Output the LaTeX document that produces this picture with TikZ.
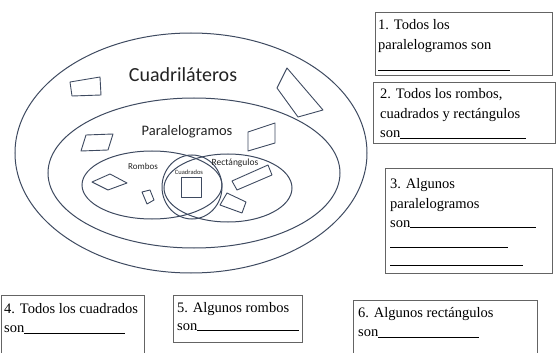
\documentclass[tikz,border=0pt]{standalone}
\usepackage{fontspec}
\setmainfont{Liberation Serif}
\newfontfamily\diagfont{Carlito}
\definecolor{setline}{RGB}{62,74,96}
\definecolor{boxline}{RGB}{100,100,100}
\definecolor{setlabel}{RGB}{35,35,35}
\newcommand{\blank}[1]{\rule[-1pt]{#1pt}{0.5pt}}

\begin{document}
\begin{tikzpicture}[x=1pt,y=1pt,yscale=-1,xscale=1,
  setline/.style={draw=setline, line width=1pt},
  figline/.style={draw=setline, line width=0.9pt, line join=round},
  setname/.style={text=setlabel, inner sep=0pt},
  qbox/.style={draw=boxline, line width=0.8pt},
  qtext/.style={anchor=base west, inner sep=0pt, font=\fontsize{14.5}{17}\selectfont}]

\useasboundingbox (0,0) rectangle (558,353);

% sets
\draw [setline] (191,153) ellipse [x radius=176, y radius=120];
\draw [setline] (194,173) ellipse [x radius=146, y radius=75];
\draw [setline] (152,185) ellipse [x radius=70, y radius=34];
\draw [setline] (228,188) ellipse [x radius=64, y radius=34];
\draw [setline] (192,187) ellipse [x radius=30, y radius=32];

\node [setname, font=\diagfont\fontsize{20}{22}\selectfont] (cuadri) at (183,75) {Cuadriláteros};
\node [setname, font=\diagfont\fontsize{14.5}{16}\selectfont] (paral) at (187,132) {Paralelogramos};
\node [setname, font=\diagfont\fontsize{9}{10}\selectfont] (rombos) at (143,166) {Rombos};
\node [setname, font=\diagfont\fontsize{9.5}{10}\selectfont] (rect) at (235,163) {Rectángulos};
\node [setname, font=\diagfont\fontsize{6.5}{7}\selectfont] (cuad) at (189,172) {Cuadrados};

% little figures
\draw [figline] (70,82) -- (100,77) -- (101,95) -- (72,96) -- cycle;
\draw [figline] (287,68) -- (323,110) -- (298,117) -- (277,88) -- cycle;
\draw [figline] (86,135) -- (113,134) -- (108,150) -- (81,151) -- cycle;
\draw [figline] (248,132) -- (275,123) -- (275,143) -- (248,151) -- cycle;
\draw [figline] (92,182) -- (110,174) -- (127,183) -- (108,190) -- cycle;
\draw [figline] (142,192) -- (150,190) -- (154,200) -- (147,204) -- cycle;
\draw [figline] (181,177) rectangle (201,197);
\draw [figline] (232,181) -- (268,165) -- (272,175) -- (237,190) -- cycle;
\draw [figline] (227,193) -- (246,202) -- (242,213) -- (220,205) -- cycle;

% question boxes
\draw [qbox] (375,12) rectangle (552,75);
\node [qtext] (q1a) at (378,30) {1. Todos los};
\node [qtext] (q1b) at (378,50) {paralelogramos son};
\node [qtext] (q1c) at (378,70) {\blank{132}};

\draw [qbox] (373,82) rectangle (555,143);
\node [qtext] (q2a) at (380,99) {2. Todos los rombos,};
\node [qtext] (q2b) at (380,119) {cuadrados y rectángulos};
\node [qtext] (q2c) at (380,138) {son\blank{126}};

\draw [qbox] (385,168) rectangle (552,273);
\node [qtext] (q3a) at (390,189) {3. Algunos};
\node [qtext] (q3b) at (390,208) {paralelogramos};
\node [qtext] (q3c) at (390,227) {son\blank{126}};
\node [qtext] (q3d) at (390,247) {\blank{118}};
\node [qtext] (q3e) at (390,265) {\blank{133}};

\draw [qbox] (1,353) -- (1,295) -- (144,295) -- (144,353);
\node [qtext] (q4a) at (4,313) {4. Todos los cuadrados};
\node [qtext] (q4b) at (4,332) {son\blank{101}};

\draw [qbox] (173,295) rectangle (302,342);
\node [qtext] (q5a) at (177,312) {5. Algunos rombos};
\node [qtext] (q5b) at (177,330) {son\blank{102}};

\draw [qbox] (353,353) -- (353,300) -- (537,300) -- (537,353);
\node [qtext] (q6a) at (358,317) {6. Algunos rectángulos};
\node [qtext] (q6b) at (358,336) {son\blank{101}};

\end{tikzpicture}
\end{document}
